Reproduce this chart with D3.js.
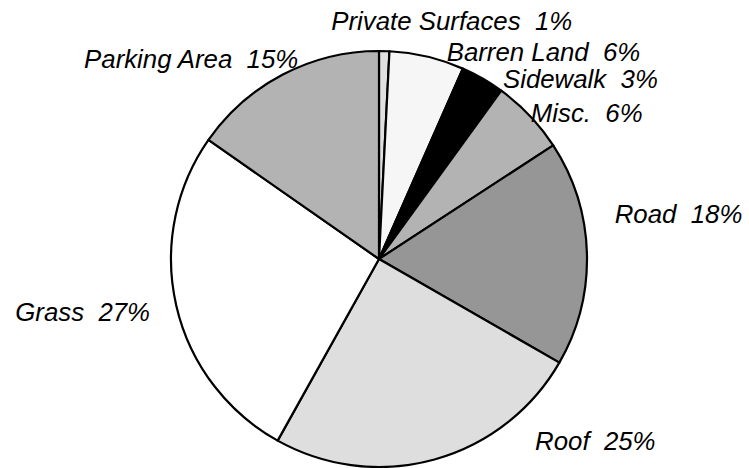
<!DOCTYPE html>
<head>
  <meta charset="utf-8">
  <script src="https://d3js.org/d3.v7.min.js"></script>
  <style>
    body { margin: 0; background: #fff; }
    .sliceLabel {
      font-family: 'Liberation Sans', Arial, sans-serif;
      font-style: italic;
      font-size: 25.8px;
      fill: #000;
      white-space: pre;
    }
  </style>
</head>
<body>
<div id="chart"></div>
<script>

//////////////////// data, clockwise from 12 o'clock ////////////////////
const categories = ["Private Surfaces", "Barren Land", "Sidewalk", "Misc.", "Road", "Roof", "Grass", "Parking Area"];
const shares = [0.8, 5.8, 3.4, 5.8, 17.5, 24.8, 26.6, 15.3];
const fills = ["#e0e0e0", "#f6f6f6", "#000000", "#b3b3b3", "#969696", "#dedede", "#ffffff", "#b3b3b3"];

// hand placed labels (nudge from the outer-arc point)
const labelNudge = [[67, 0], [15, 25], [10, 27], [-14, 21], [7, -30], [95, -29], [-6, 11], [25, 12]];

//////////////////// setup ////////////////////
const width = 749, height = 468;
const cx = 379, cy = 259, radius = 208;

const svg = d3.select("#chart")
    .append("svg")
    .attr("width", width)
    .attr("height", height);

const g = svg.append("g")
    .attr("transform", "translate(" + cx + "," + cy + ")");

const data = categories.map((c, i) => ({ name: c, value: shares[i], fill: fills[i] }));

const pie = d3.pie()
    .sort(null)
    .value(d => d.value);

const arc = d3.arc()
    .innerRadius(0)
    .outerRadius(radius);

const labelArc = d3.arc()
    .innerRadius(radius * 1.1)
    .outerRadius(radius * 1.1);

const arcs = pie(data);

//////////////////// slices ////////////////////
g.selectAll(".slice")
    .data(arcs)
    .enter().append("path")
    .attr("class", "slice")
    .attr("d", arc)
    .style("fill", d => d.data.fill)
    .style("stroke", "#000")
    .style("stroke-width", 2.2)
    .style("stroke-linejoin", "round");

//////////////////// labels ////////////////////
g.selectAll(".sliceLabel")
    .data(arcs)
    .enter().append("text")
    .attr("class", "sliceLabel")
    .attr("x", (d, i) => labelArc.centroid(d)[0] + labelNudge[i][0])
    .attr("y", (d, i) => labelArc.centroid(d)[1] + labelNudge[i][1])
    .attr("text-anchor", (d, i) => {
        const mid = (d.startAngle + d.endAngle) / 2;
        if (i === 0) return "middle";
        return mid < Math.PI ? "start" : "end";
    })
    .text(d => d.data.name + "  " + Math.round(d.data.value) + "%");

</script>
</body>
